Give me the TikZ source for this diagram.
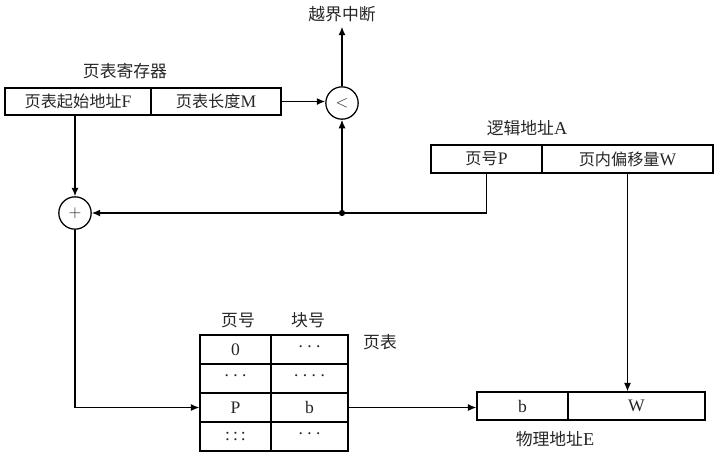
\documentclass[tikz,border=0pt]{standalone}
\usepackage{fontspec}
\setmainfont{Liberation Serif}
\newfontfamily\cjk{Noto Sans CJK SC}[Scale=0.92]
\usetikzlibrary{arrows.meta,calc,positioning}

\begin{document}
\begin{tikzpicture}[x=0.025cm,y=-0.025cm,>={Latex[length=6pt,width=5pt]},
 cell/.style={draw,line width=.9pt,inner sep=0pt,
  font=\fontsize{12.5}{14}\selectfont},
 op/.style={draw,circle,line width=.9pt,minimum size=23pt,inner sep=0pt,
  font=\fontsize{12}{14}\selectfont},
 lbl/.style={font=\fontsize{13}{15}\selectfont},
 every node/.style={text=black!85}]
 \useasboundingbox (0,0) rectangle (720,470);
 % page table register
 \node[lbl] (regname) at (125,71) {\cjk 页表寄存器};
 \node[cell,minimum width=146*0.025cm,minimum height=27*0.025cm] (regF) at (78,101.5) {{\cjk 页表起始地址}F};
 \node[cell,minimum width=130*0.025cm,minimum height=27*0.025cm] (regM) at (216,101.5) {{\cjk 页表长度}M};
 % comparator and adder
 \node[op] (less) at (342,103) {$<$};
 \node[lbl] (intr) at (342,14) {\cjk 越界中断};
 \node[op] (plus) at (75,213) {$+$};
 % logical address
 \node[lbl] (laname) at (527,128) {{\cjk 逻辑地址}A};
 \node[cell,minimum width=111*0.025cm,minimum height=28*0.025cm] (lP) at (486.5,159) {{\cjk 页号}P};
 \node[cell,minimum width=171*0.025cm,minimum height=28*0.025cm] (lW) at (627.5,159) {{\cjk 页内偏移量}W};
 % page table
 \node[lbl] (hPage) at (238,320) {\cjk 页号};
 \node[lbl] (hBlock) at (308,320) {\cjk 块号};
 \node[lbl] (ptname) at (380,342) {\cjk 页表};
 \node[cell,minimum width=71*0.025cm,minimum height=29*0.025cm] (t1a) at (235.5,349.5) {0};
 \node[cell,minimum width=77*0.025cm,minimum height=29*0.025cm] (t1b) at (309.5,349.5) {·\,·\,·};
 \node[cell,minimum width=71*0.025cm,minimum height=29*0.025cm] (t2a) at (235.5,378.5) {·\,·\,·};
 \node[cell,minimum width=77*0.025cm,minimum height=29*0.025cm] (t2b) at (309.5,378.5) {·\,·\,·\,·};
 \node[cell,minimum width=71*0.025cm,minimum height=29*0.025cm] (tP) at (235.5,407.5) {P};
 \node[cell,minimum width=77*0.025cm,minimum height=29*0.025cm] (tB) at (309.5,407.5) {b};
 \node[cell,minimum width=71*0.025cm,minimum height=29*0.025cm] (t4a) at (235.5,436.5) {:\,:\,:};
 \node[cell,minimum width=77*0.025cm,minimum height=29*0.025cm] (t4b) at (309.5,436.5) {·\,·\,·};
 % physical address
 \node[cell,minimum width=91*0.025cm,minimum height=28*0.025cm] (pb) at (522.5,406) {b};
 \node[cell,minimum width=137*0.025cm,minimum height=28*0.025cm] (pW) at (636.5,406) {W};
 \node[lbl] (paname) at (555,439) {{\cjk 物理地址}E};
 % connectors
 \coordinate (jct) at (less.south |- plus.east);
 \draw[->,line width=.9pt] (less.north) -- (intr.south);
 \draw[->,line width=.9pt] (regM.east) -- (regM.east -| less.west);
 \draw[->,line width=.9pt] (plus.north |- regF.south) -- (plus.north);
 \draw[->,line width=.9pt] (lP.south) |- (plus.east);
 \draw[->,line width=.9pt] (jct) -- (less.south);
 \fill (jct) circle (2.2pt);
 \draw[->,line width=.9pt] (lW.south) -- (lW.south |- pW.north);
 \draw[->,line width=.9pt] (plus.south) |- (tP.west);
 \draw[->,line width=.9pt] (tB.east) -- (tB.east -| pb.west);
\end{tikzpicture}
\end{document}
